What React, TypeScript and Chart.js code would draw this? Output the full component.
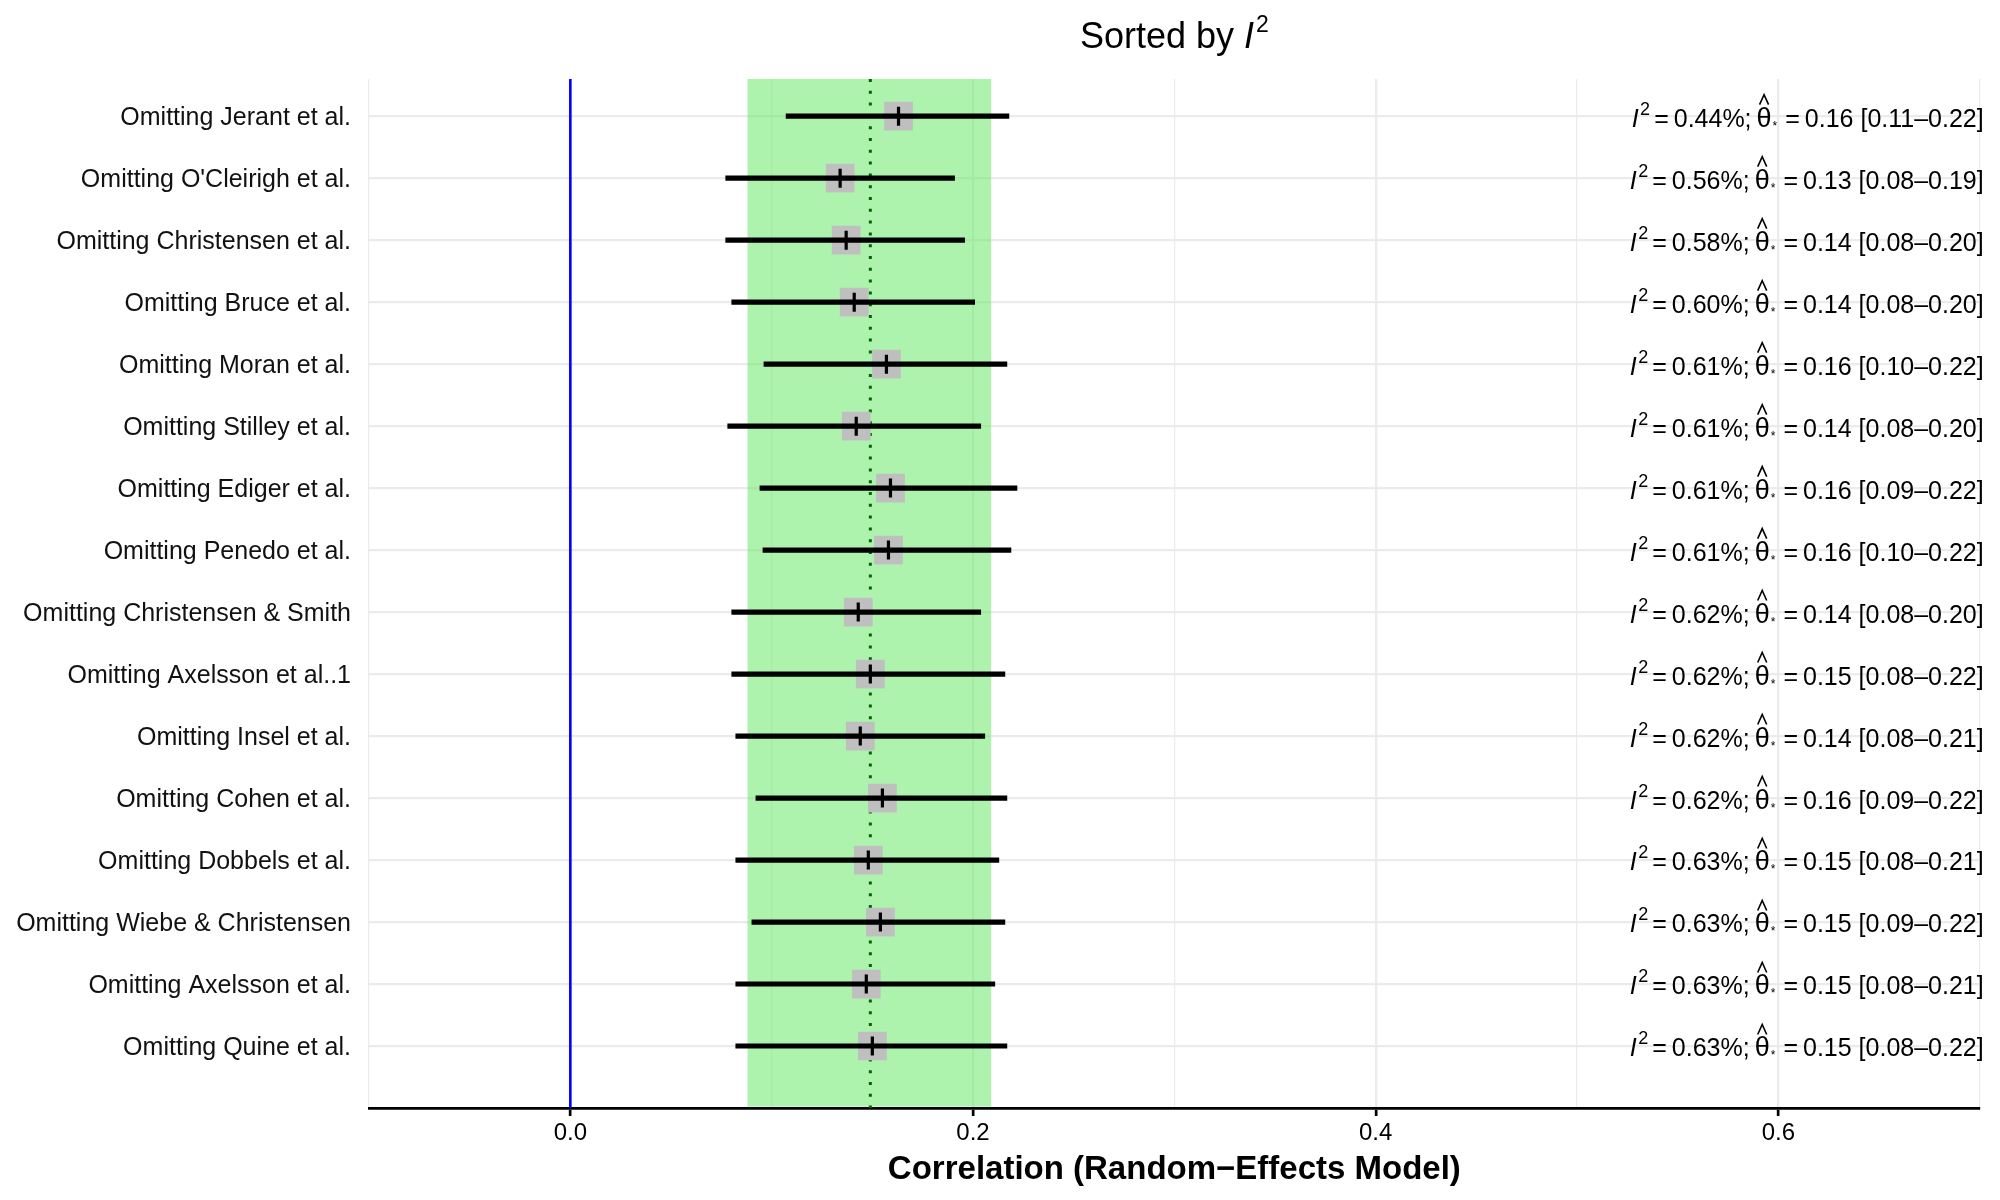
import React, { useEffect, useRef } from 'react';
import { Chart, registerables } from 'chart.js';

Chart.register(...registerables);

// ---------------- data ----------------
const studies = [
  'Omitting Jerant et al.',
  "Omitting O'Cleirigh et al.",
  'Omitting Christensen et al.',
  'Omitting Bruce et al.',
  'Omitting Moran et al.',
  'Omitting Stilley et al.',
  'Omitting Ediger et al.',
  'Omitting Penedo et al.',
  'Omitting Christensen & Smith',
  'Omitting Axelsson et al..1',
  'Omitting Insel et al.',
  'Omitting Cohen et al.',
  'Omitting Dobbels et al.',
  'Omitting Wiebe & Christensen',
  'Omitting Axelsson et al.',
  'Omitting Quine et al.',
];

const estimates = [0.163, 0.134, 0.137, 0.141, 0.157, 0.142, 0.159, 0.158, 0.143, 0.149, 0.144, 0.155, 0.148, 0.154, 0.147, 0.150];
const lowerCI = [0.107, 0.077, 0.077, 0.080, 0.096, 0.078, 0.094, 0.0955, 0.080, 0.080, 0.082, 0.092, 0.082, 0.090, 0.082, 0.082];
const upperCI = [0.218, 0.191, 0.196, 0.201, 0.217, 0.204, 0.222, 0.219, 0.204, 0.216, 0.206, 0.217, 0.213, 0.216, 0.211, 0.217];

const i2Labels = ['0.44', '0.56', '0.58', '0.60', '0.61', '0.61', '0.61', '0.61', '0.62', '0.62', '0.62', '0.62', '0.63', '0.63', '0.63', '0.63'];
const estLabels = ['0.16', '0.13', '0.14', '0.14', '0.16', '0.14', '0.16', '0.16', '0.14', '0.15', '0.14', '0.16', '0.15', '0.15', '0.15', '0.15'];
const ciLabels = [
  '0.11–0.22', '0.08–0.19', '0.08–0.20', '0.08–0.20', '0.10–0.22', '0.08–0.20', '0.09–0.22', '0.10–0.22',
  '0.08–0.20', '0.08–0.22', '0.08–0.21', '0.09–0.22', '0.08–0.21', '0.09–0.22', '0.08–0.21', '0.08–0.22',
];

const pooledEstimate = 0.149;
const pooledBand = [0.088, 0.209];

const xGridValues = [-0.1, 0, 0.1, 0.2, 0.3, 0.4, 0.5, 0.6, 0.7];
const xLabeledTicks = [0, 0.2, 0.4, 0.6];

const X_MIN = -0.1;
const X_MAX = 0.7;
const Y_MIN = 0.4;
const Y_MAX = 17;

const FAMILY = '"Liberation Sans", Arial, Helvetica, sans-serif';

const isMajor = (v: number) => xLabeledTicks.some((m) => Math.abs(m - v) < 1e-9);

function drawStat(ctx: CanvasRenderingContext2D, rightX: number, cy: number, i2: string, est: string, ci: string) {
  const F = 25;
  const base = `${F}px ${FAMILY}`;
  type Piece = { t: string; font: string; dy: number; gap: number; hat?: boolean };
  const pieces: Piece[] = [
    { t: 'I', font: `italic ${F}px ${FAMILY}`, dy: 0, gap: 0 },
    { t: '2', font: `${Math.round(F * 0.7)}px ${FAMILY}`, dy: -F * 0.48, gap: 1.5 },
    { t: '=', font: base, dy: 0, gap: 4 },
    { t: `${i2}%;`, font: base, dy: 0, gap: 5 },
    { t: 'θ', font: `${F + 2}px ${FAMILY}`, dy: 0, gap: 5, hat: true },
    { t: '*', font: `12px ${FAMILY}`, dy: 3, gap: 1 },
    { t: '=', font: base, dy: 0, gap: 8 },
    { t: est, font: base, dy: 0, gap: 5 },
    { t: ` [${ci}]`, font: base, dy: 0, gap: 0 },
  ];
  let total = 0;
  const widths: number[] = [];
  for (const p of pieces) {
    ctx.font = p.font;
    const w = ctx.measureText(p.t).width;
    widths.push(w);
    total += p.gap + w;
  }
  let x = rightX + 4 - total;
  const baseline = cy + F * 0.358;
  ctx.fillStyle = '#000';
  ctx.textAlign = 'left';
  ctx.textBaseline = 'alphabetic';
  pieces.forEach((p, i) => {
    x += p.gap;
    ctx.font = p.font;
    ctx.fillText(p.t, x, baseline + p.dy);
    if (p.hat) {
      const cx = x + widths[i] / 2;
      ctx.save();
      ctx.strokeStyle = '#000';
      ctx.lineWidth = 1.6;
      ctx.beginPath();
      ctx.moveTo(cx - 4.5, baseline - 22);
      ctx.lineTo(cx, baseline - 32);
      ctx.lineTo(cx + 4.5, baseline - 22);
      ctx.stroke();
      ctx.restore();
    }
    x += widths[i];
  });
}

const decorPlugin = {
  id: 'decor',
  beforeDatasetsDraw(chart: any) {
    const { ctx, chartArea, scales } = chart;
    const x0 = scales.x.getPixelForValue(pooledBand[0]);
    const x1 = scales.x.getPixelForValue(pooledBand[1]);
    ctx.save();
    ctx.fillStyle = 'rgba(100, 230, 100, 0.53)';
    ctx.fillRect(x0, chartArea.top, x1 - x0, chartArea.bottom - chartArea.top - 1.4);
    ctx.restore();
  },
  afterDraw(chart: any) {
    const { ctx, chartArea, scales } = chart;
    const cx = (chartArea.left + chartArea.right) / 2;
    ctx.save();
    // title
    const tF = 36;
    const supF = 23;
    const p1 = 'Sorted by ';
    ctx.font = `${tF}px ${FAMILY}`;
    const w1 = ctx.measureText(p1).width;
    ctx.font = `italic ${tF}px ${FAMILY}`;
    const w2 = ctx.measureText('I').width;
    ctx.font = `${supF}px ${FAMILY}`;
    const w3 = ctx.measureText('2').width;
    const tw = w1 + w2 + 2 + w3;
    let tx = cx - tw / 2;
    const tb = 47.5;
    ctx.fillStyle = '#000';
    ctx.textBaseline = 'alphabetic';
    ctx.textAlign = 'left';
    ctx.font = `${tF}px ${FAMILY}`;
    ctx.fillText(p1, tx, tb);
    tx += w1;
    ctx.font = `italic ${tF}px ${FAMILY}`;
    ctx.fillText('I', tx, tb);
    tx += w2 + 2;
    ctx.font = `${supF}px ${FAMILY}`;
    ctx.fillText('2', tx, tb - 16);

    // x-axis title
    ctx.font = `bold 33px ${FAMILY}`;
    ctx.textAlign = 'center';
    ctx.fillText('Correlation (Random−Effects Model)', cx, 1167 + 33 * 0.358);

    // right-side statistics
    studies.forEach((_, i) => {
      const y = scales.y.getPixelForValue(i + 1);
      drawStat(ctx, scales.x.getPixelForValue(X_MAX), y + 1.5, i2Labels[i], estLabels[i], ciLabels[i]);
    });
    ctx.restore();
  },
};

export default function App() {
  const canvasRef = useRef<HTMLCanvasElement | null>(null);

  useEffect(() => {
    document.body.style.margin = '0';
    const canvas = canvasRef.current;
    if (!canvas) return;

    const rows = studies.map((_, i) => i + 1);
    const ciData: { x: number; y: number }[] = [];
    rows.forEach((r, i) => {
      ciData.push({ x: lowerCI[i], y: r });
      ciData.push({ x: upperCI[i], y: r });
      ciData.push({ x: NaN, y: NaN });
    });

    const chart = new Chart(canvas, {
      type: 'line',
      data: {
        datasets: [
          {
            type: 'scatter',
            label: 'estimate',
            data: rows.map((r, i) => ({ x: estimates[i], y: r })),
            pointStyle: 'line',
            rotation: 90,
            pointRadius: 9.5,
            borderColor: '#000',
            backgroundColor: '#000',
            borderWidth: 3.2,
            order: 0,
          } as any,
          {
            type: 'line',
            label: 'ci',
            data: ciData,
            borderColor: '#000',
            borderWidth: 5.2,
            borderCapStyle: 'butt',
            pointRadius: 0,
            spanGaps: false,
            fill: false,
            order: 1,
          } as any,
          {
            type: 'scatter',
            label: 'box',
            data: rows.map((r, i) => ({ x: estimates[i], y: r })),
            pointStyle: 'rect',
            pointRadius: 20.3,
            backgroundColor: '#bfbfbf',
            borderWidth: 0,
            order: 2,
          } as any,
          {
            type: 'line',
            label: 'pooled',
            data: [
              { x: pooledEstimate, y: Y_MIN },
              { x: pooledEstimate, y: Y_MAX },
            ],
            borderColor: '#006400',
            borderWidth: 3,
            borderDash: [3, 8.8],
            borderCapStyle: 'butt',
            pointRadius: 0,
            fill: false,
            order: 3,
          } as any,
          {
            type: 'line',
            label: 'zero',
            data: [
              { x: 0, y: Y_MIN },
              { x: 0, y: Y_MAX },
            ],
            borderColor: '#0000ff',
            borderWidth: 2.6,
            pointRadius: 0,
            fill: false,
            order: 4,
          } as any,
        ],
      },
      options: {
        responsive: false,
        animation: false,
        events: [],
        layout: { padding: { top: 79, right: 18, left: 0, bottom: 0 } },
        plugins: {
          legend: { display: false },
          tooltip: { enabled: false },
          title: { display: false },
        },
        scales: {
          x: {
            type: 'linear',
            min: X_MIN,
            max: X_MAX,
            afterBuildTicks: (s: any) => {
              s.ticks = xGridValues.map((v) => ({ value: v }));
            },
            afterFit: (s: any) => {
              s.height = 92;
            },
            ticks: {
              autoSkip: false,
              maxRotation: 0,
              padding: 3,
              color: '#000',
              font: { family: FAMILY, size: 24 },
              callback: (v: any) => (isMajor(Number(v)) ? Number(v).toFixed(1) : ''),
            },
            grid: {
              color: '#ebebeb',
              lineWidth: (c: any) => (c.tick && isMajor(c.tick.value) ? 2.3 : 1.2),
              drawTicks: true,
              tickLength: 8,
              tickWidth: 2.7,
              tickColor: (c: any) => (c.tick && isMajor(c.tick.value) ? '#000' : 'rgba(0,0,0,0)'),
            },
            border: { display: true, color: '#000', width: 2.7 },
          },
          y: {
            type: 'linear',
            min: Y_MIN,
            max: Y_MAX,
            reverse: true,
            afterBuildTicks: (s: any) => {
              s.ticks = rows.map((v) => ({ value: v }));
            },
            afterFit: (s: any) => {
              s.width = 369;
            },
            ticks: {
              autoSkip: false,
              padding: 18,
              labelOffset: 2,
              color: '#111',
              font: { family: FAMILY, size: 25 },
              callback: (v: any) => studies[Number(v) - 1] ?? '',
            },
            grid: { color: '#ebebeb', lineWidth: 2.3, drawTicks: false },
            border: { display: false },
          },
        },
      } as any,
      plugins: [decorPlugin],
    });

    return () => chart.destroy();
  }, []);

  return (
    <div style={{ width: 2000, height: 1200, background: '#fff' }}>
      <canvas ref={canvasRef} width={2000} height={1200} style={{ display: 'block', width: 2000, height: 1200 }} />
    </div>
  );
}
